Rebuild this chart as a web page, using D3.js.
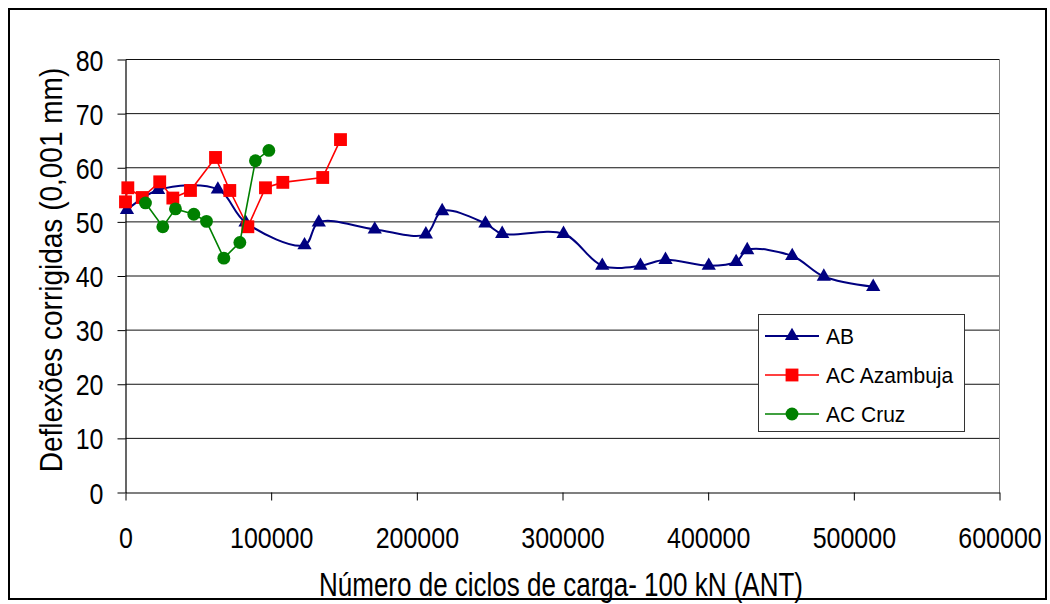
<!DOCTYPE html>
<html>
<head>
<meta charset="utf-8">
<script src="https://cdn.jsdelivr.net/npm/d3@7/dist/d3.min.js"></script>
<style>
  html, body { margin: 0; padding: 0; background: #fff; }
  svg { display: block; font-family: "Liberation Sans", Arial, sans-serif; }
</style>
</head>
<body>
<svg id="chart" width="1050" height="604"></svg>
<script>
// ---- data ----
const seriesNames = ["AB", "AC Azambuja", "AC Cruz"];
const abX = [1000, 22400, 63400, 82400, 122900, 132700, 171100, 206200, 217400, 247100, 258600, 300700, 327300, 353500, 370700, 400400, 419200, 426800, 457700, 479400, 513300];
const abY = [52.2, 55.9, 56.0, 49.9, 45.7, 49.9, 48.6, 47.7, 52.0, 49.7, 47.8, 47.8, 41.9, 41.9, 43.0, 41.9, 42.6, 44.8, 43.7, 39.9, 38.0];
const azX = [0, 1600, 11500, 23500, 32500, 44600, 61800, 71600, 84000, 96100, 108000, 135400, 147600];
const azY = [53.7, 56.3, 54.5, 57.4, 54.4, 55.8, 61.9, 55.8, 49.1, 56.3, 57.3, 58.2, 65.2];
const crX = [13700, 25600, 34300, 46900, 55600, 67500, 78500, 89200, 98400];
const crY = [53.5, 49.1, 52.4, 51.4, 50.1, 43.3, 46.2, 61.3, 63.2];
const xTicks = [0, 100000, 200000, 300000, 400000, 500000, 600000];
const yTicks = [0, 10, 20, 30, 40, 50, 60, 70, 80];
const xTitle = "Número de ciclos de carga- 100 kN (ANT)";
const yTitle = "Deflexões corrigidas (0,001 mm)";

// ---- styles ----
const colors = ["#000080", "#FF0000", "#008000"];
const symbols = [d3.symbolTriangle, d3.symbolSquare, d3.symbolCircle];
const symSizes = [88, 165, 130];
const lineWidths = [2, 1.6, 1.6];

const svg = d3.select("#chart");

// outer border
svg.append("rect").attr("x", 9).attr("y", 9).attr("width", 1037).attr("height", 590)
  .attr("fill", "#fff").attr("stroke", "#000").attr("stroke-width", 2);

const x = d3.scaleLinear().domain([0, 600000]).range([125.5, 999.5]);
const y = d3.scaleLinear().domain([0, 80]).range([492.5, 59.5]);

// gridlines
svg.append("g").selectAll("line").data(yTicks.filter(d => d > 0)).join("line")
  .attr("x1", x(0)).attr("x2", x(600000))
  .attr("y1", d => y(d)).attr("y2", d => y(d))
  .attr("stroke", "#111").attr("stroke-width", 1);

// plot border (right side)
svg.append("line").attr("x1", x(600000)).attr("x2", x(600000)).attr("y1", y(80)).attr("y2", y(0))
  .attr("stroke", "#808080").attr("stroke-width", 1);

// axes
const fmt = d3.format("d");
const gx = svg.append("g").attr("transform", `translate(0,${y(0)})`)
  .call(d3.axisBottom(x).tickValues(xTicks).tickFormat(fmt).tickSize(8).tickSizeOuter(0));
const gy = svg.append("g").attr("transform", `translate(${x(0)},0)`)
  .call(d3.axisLeft(y).tickValues(yTicks).tickSize(8).tickSizeOuter(0));
[gx, gy].forEach(g => {
  g.select(".domain").attr("stroke", "#000").attr("stroke-width", 1.2);
  g.selectAll(".tick line").attr("stroke", "#000");
  g.selectAll(".tick text").attr("fill", "#000")
    .attr("font-family", "'Liberation Sans', Arial, sans-serif")
    .attr("font-size", 25).attr("dy", null).attr("y", null).attr("x", null);
});
gx.selectAll(".tick text").attr("text-anchor", "middle")
  .attr("transform", "translate(0,55) scale(1,1.18)");
gy.selectAll(".tick text").attr("text-anchor", "end")
  .attr("transform", "translate(-22,10.5) scale(1,1.18)");

// axis titles
svg.append("text").text(xTitle)
  .attr("text-anchor", "middle")
  .attr("font-size", 26)
  .attr("transform", "translate(561,596) scale(1,1.28)");
svg.append("text").text(yTitle)
  .attr("text-anchor", "middle")
  .attr("font-size", 28)
  .attr("transform", "translate(62,270) rotate(-90) scale(1,1.14)");

// series
const series = [
  { name: seriesNames[0], xs: abX, ys: abY, curve: d3.curveCatmullRom.alpha(0.5) },
  { name: seriesNames[1], xs: azX, ys: azY, curve: d3.curveLinear },
  { name: seriesNames[2], xs: crX, ys: crY, curve: d3.curveLinear }
];

series.forEach((s, i) => {
  const pts = s.xs.map((v, k) => [v, s.ys[k]]);
  const line = d3.line().x(d => x(d[0])).y(d => y(d[1])).curve(s.curve);
  svg.append("path").attr("d", line(pts)).attr("fill", "none")
    .attr("stroke", colors[i]).attr("stroke-width", lineWidths[i]);
  svg.append("g").selectAll("path").data(pts).join("path")
    .attr("transform", d => `translate(${x(d[0])},${y(d[1])})`)
    .attr("d", d3.symbol().type(symbols[i]).size(symSizes[i])())
    .attr("fill", colors[i]);
});

// legend
const lg = svg.append("g");
lg.append("rect").attr("x", 758.5).attr("y", 314.5).attr("width", 206).attr("height", 117)
  .attr("fill", "#fff").attr("stroke", "#333").attr("stroke-width", 1);
const rowsY = [336, 375, 414];
seriesNames.forEach((name, i) => {
  lg.append("line").attr("x1", 765).attr("x2", 819).attr("y1", rowsY[i]).attr("y2", rowsY[i])
    .attr("stroke", colors[i]).attr("stroke-width", lineWidths[i]);
  lg.append("path").attr("transform", `translate(792,${rowsY[i]})`)
    .attr("d", d3.symbol().type(symbols[i]).size(symSizes[i])()).attr("fill", colors[i]);
  lg.append("text").text(name).attr("x", 826).attr("y", rowsY[i]).attr("dy", "0.36em")
    .attr("font-size", 21).attr("fill", "#000")
    .attr("transform", `translate(0,${rowsY[i] * -0.08}) scale(1,1.08)`);
});
</script>
</body>
</html>
